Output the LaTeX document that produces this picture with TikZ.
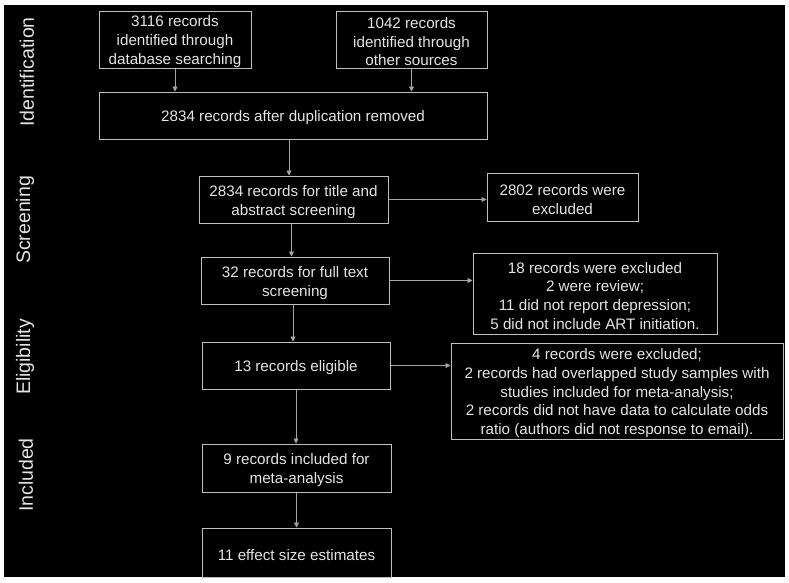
\documentclass[tikz,border=0pt]{standalone}
\usepackage{fontspec}
\setmainfont{Liberation Sans}
\usetikzlibrary{arrows.meta}
\definecolor{boxline}{HTML}{BFBFBF}
\definecolor{boxtext}{HTML}{E4E4E4}
\definecolor{arrline}{HTML}{A6A6A6}
\newcommand\tstrut{\rule{0pt}{15.5pt}}

\begin{document}
\begin{tikzpicture}[x=1pt,y=-1pt,
    box/.style={draw=boxline,line width=1pt,text=boxtext,align=center,inner sep=0pt,
      font=\fontsize{15.2}{18.7}\selectfont},
    arr/.style={draw=arrline,line width=0.8pt,-{Triangle[length=5pt,width=5pt]}},
    phase/.style={text=boxtext,rotate=90,inner sep=0pt,font=\fontsize{19.5}{22}\selectfont}]
  \useasboundingbox (0,0) rectangle (789,582);
  \fill[white] (0,0) rectangle (789,582);
  \fill[black] (4,5) rectangle (785,577);

  % stage labels
  \node[phase] (identification) at (27,72) {Identification};
  \node[phase] (screening) at (25,220) {Screening};
  \node[phase] (eligibility) at (25,357) {Eligibility};
  \node[phase] (included) at (26,475) {Included};

  % boxes
  \node[box,minimum width=152pt,minimum height=57pt] (dbsearch) at (175,39.5)
    {\tstrut 3116 records\\identified through\\database searching};
  \node[box,minimum width=151pt,minimum height=57pt] (othersrc) at (411.5,39.5)
    {\tstrut 1042 records\\identified through\\other sources};
  \node[box,minimum width=388pt,minimum height=47pt] (dedup) at (293,115.5)
    {\tstrut 2834 records after duplication removed};
  \node[box,minimum width=189pt,minimum height=47pt] (titleabs) at (293.5,199.5)
    {\tstrut 2834 records for title and\\abstract screening};
  \node[box,minimum width=151pt,minimum height=48pt] (excl1) at (562.5,197)
    {\tstrut 2802 records were\\excluded};
  \node[box,minimum width=188pt,minimum height=47pt] (fulltext) at (295,280.5)
    {\tstrut 32 records for full text\\screening};
  \node[box,minimum width=244pt,minimum height=81pt] (excl2) at (595,293.5)
    {\tstrut 18 records were excluded\\2 were review;\\11 did not report depression;\\5 did not include ART initiation.};
  \node[box,minimum width=188pt,minimum height=47pt] (eligible) at (296,365.5)
    {\tstrut 13 records eligible};
  \node[box,minimum width=332pt,minimum height=96pt] (excl3) at (617,391)
    {\tstrut 4 records were excluded;\\2 records had overlapped study samples with\\studies included for meta-analysis;\\2 records did not have data to calculate odds\\ratio (authors did not response to email).};
  \node[box,minimum width=189pt,minimum height=48pt] (metaan) at (296.5,468)
    {\tstrut 9 records included for\\meta-analysis};
  \node[box,minimum width=189pt,minimum height=49pt] (effects) at (296.5,552.5)
    {\tstrut 11 effect size estimates};

  % arrows
  \draw[arr] (dbsearch.south) -- (dbsearch.south |- dedup.north);
  \draw[arr] (othersrc.south) -- (othersrc.south |- dedup.north);
  \draw[arr] ([xshift=-4pt]dedup.south) -- ([xshift=-4pt]dedup.south |- titleabs.north);
  \draw[arr] ([xshift=-2pt]titleabs.south) -- ([xshift=-2pt]titleabs.south |- fulltext.north);
  \draw[arr] ([xshift=-2pt]fulltext.south) -- ([xshift=-2pt]fulltext.south |- eligible.north);
  \draw[arr] (eligible.south) -- (eligible.south |- metaan.north);
  \draw[arr] (metaan.south) -- (metaan.south |- effects.north);
  \draw[arr] (titleabs.east) -- (titleabs.east -| excl1.west);
  \draw[arr] (fulltext.east) -- (fulltext.east -| excl2.west);
  \draw[arr] (eligible.east) -- (eligible.east -| excl3.west);
\end{tikzpicture}
\end{document}
